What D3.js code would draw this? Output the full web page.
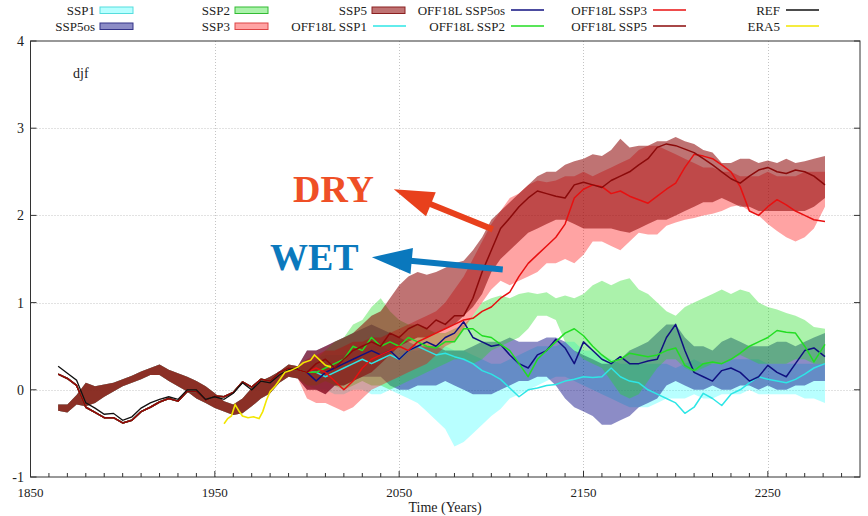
<!DOCTYPE html>
<html><head><meta charset="utf-8">
<script src="https://cdn.jsdelivr.net/npm/d3@7"></script>
<style>body{margin:0;background:#fff}svg{display:block}</style>
</head><body><svg id="c" width="868" height="516"></svg>
<script>
// ---------------- data ----------------
const xTicks = [1850, 1950, 2050, 2150, 2250];
const yTicks = [-1, 0, 1, 2, 3, 4];
const panelLabel = "djf";
const xTitle = "Time (Years)";

const histYears = [1865,1870,1875,1880,1885,1890,1895,1900,1905,1910,1915,1920,1925,1930,1935,1940,1945,1950,1955,1960,1965,1970,1975,1980,1985,1990,1995];
const histLow  = [-0.24,-0.26,-0.17,-0.19,-0.15,-0.08,-0.02,0.04,0.08,0.12,0.17,0.17,0.10,0.04,-0.02,-0.10,-0.15,-0.21,-0.25,-0.29,-0.27,-0.19,-0.10,-0.04,0.08,0.15,0.13];
const histHigh = [-0.17,-0.17,-0.06,0.08,0.04,0.06,0.08,0.12,0.16,0.21,0.25,0.29,0.23,0.19,0.15,0.10,0.04,-0.04,-0.13,-0.17,-0.10,0.02,0.10,0.15,0.21,0.29,0.27];
const refHist  = [0.27,0.19,0.11,-0.15,-0.21,-0.28,-0.27,-0.35,-0.31,-0.21,-0.15,-0.11,-0.08,-0.11,0.0,0.0,-0.11,-0.08,-0.11,-0.04,0.08,0.0,0.10,0.08,0.17,0.23,0.25];
const offHist  = [0.18,0.13,0.05,-0.20,-0.26,-0.32,-0.32,-0.38,-0.35,-0.25,-0.20,-0.14,-0.10,-0.13,-0.02,-0.02,-0.12,-0.07,-0.08,-0.03,0.09,0.03,0.12,0.10,0.20,0.25,0.23];

const eraYears = [1955,1957,1959,1961,1963,1965,1968,1971,1974,1976,1978,1980,1983,1985,1988,1991,1995,1998,2002,2004,2007,2010,2013];
const eraVals  = [-0.39,-0.33,-0.30,-0.17,-0.24,-0.30,-0.32,-0.31,-0.33,-0.25,-0.12,-0.02,0.05,0.11,0.20,0.22,0.26,0.31,0.34,0.40,0.34,0.28,0.26];

const futYears = [2000,2005,2010,2015,2020,2025,2030,2035,2040,2045,2050,2055,2060,2065,2070,2075,2080,2085,2090,2095,2100,2105,2110,2115,2120,2125,2130,2135,2140,2145,2150,2155,2160,2165,2170,2175,2180,2185,2190,2195,2200,2205,2210,2215,2220,2225,2230,2235,2240,2245,2250,2255,2260,2265,2270,2275,2281];

const ssp1Low   = [0.05,0.0,0.0,-0.05,-0.05,0.0,0.0,-0.05,-0.05,0.0,-0.05,-0.1,-0.15,-0.25,-0.35,-0.45,-0.65,-0.6,-0.5,-0.4,-0.3,-0.22,-0.1,-0.05,0.0,0.05,0.1,0.15,0.15,0.1,0.05,0.0,-0.05,-0.1,-0.15,-0.2,-0.2,-0.2,-0.15,-0.1,-0.1,-0.1,-0.05,-0.1,-0.1,-0.05,-0.05,-0.05,0.0,-0.05,-0.05,-0.05,-0.05,-0.05,-0.1,-0.1,-0.15];
const ssp1High  = [0.35,0.35,0.4,0.4,0.4,0.45,0.45,0.5,0.5,0.45,0.45,0.45,0.45,0.5,0.5,0.5,0.45,0.45,0.4,0.35,0.3,0.3,0.35,0.4,0.45,0.5,0.5,0.5,0.55,0.55,0.45,0.45,0.4,0.35,0.3,0.3,0.3,0.3,0.3,0.3,0.25,0.3,0.35,0.3,0.3,0.3,0.35,0.35,0.35,0.35,0.3,0.3,0.3,0.3,0.3,0.3,0.3];
const ssp5osLow = [0.0,0.0,-0.05,0.05,0.05,0.1,0.15,0.15,0.15,0.05,0.0,0.0,0.05,0.05,0.05,0.1,0.05,0.0,-0.05,-0.05,-0.05,0.0,0.05,0.1,0.1,0.15,0.15,0.05,-0.1,-0.2,-0.25,-0.3,-0.4,-0.4,-0.35,-0.3,-0.2,-0.15,-0.1,0.05,0.1,0.05,0.0,0.0,0.05,0.0,0.0,0.05,0.05,0.0,0.05,0.0,0.0,0.05,0.05,0.1,0.1];
const ssp5osHigh= [0.45,0.45,0.5,0.55,0.6,0.65,0.7,0.75,0.7,0.65,0.6,0.55,0.5,0.5,0.5,0.45,0.45,0.45,0.5,0.55,0.55,0.55,0.6,0.55,0.55,0.55,0.6,0.6,0.55,0.45,0.4,0.35,0.3,0.3,0.35,0.45,0.5,0.55,0.65,0.75,0.75,0.6,0.5,0.5,0.45,0.55,0.6,0.55,0.5,0.5,0.5,0.55,0.55,0.5,0.55,0.6,0.65];
const ssp2Low   = [0.05,0.05,0.1,0.05,0.0,0.05,0.1,0.05,0.05,0.0,0.05,0.1,0.15,0.2,0.25,0.3,0.35,0.35,0.3,0.35,0.45,0.5,0.55,0.6,0.7,0.85,0.85,0.8,0.55,0.45,0.35,0.3,0.25,0.1,-0.05,-0.1,-0.05,0.1,0.25,0.35,0.35,0.25,0.2,0.25,0.3,0.3,0.35,0.4,0.35,0.3,0.3,0.3,0.3,0.35,0.35,0.3,0.3];
const ssp2High  = [0.3,0.35,0.45,0.55,0.6,0.75,0.8,0.95,1.05,0.9,0.8,0.75,0.75,0.7,0.65,0.65,0.7,0.75,0.85,1.0,1.05,1.08,1.05,1.1,1.12,1.1,1.12,1.05,1.08,1.05,1.1,1.2,1.25,1.2,1.25,1.28,1.15,1.1,1.0,0.9,0.85,0.95,1.0,1.05,1.1,1.15,1.1,1.15,1.12,1.0,0.95,0.92,0.88,0.85,0.8,0.72,0.7];
const ssp3Low   = [-0.1,-0.15,-0.15,-0.2,-0.25,-0.2,-0.1,0.0,0.05,0.1,0.15,0.2,0.25,0.3,0.4,0.5,0.55,0.7,0.85,1.0,1.15,1.25,1.2,1.25,1.3,1.35,1.45,1.45,1.5,1.45,1.55,1.7,1.7,1.65,1.6,1.7,1.8,1.78,1.78,1.88,1.92,1.95,1.97,2.0,2.02,2.05,2.1,2.12,2.05,2.0,1.9,1.82,1.75,1.7,1.75,1.85,2.1];
const ssp3High  = [0.35,0.4,0.45,0.45,0.5,0.55,0.55,0.6,0.6,0.65,0.7,0.75,0.8,0.85,0.9,1.0,1.15,1.3,1.5,1.7,1.9,2.05,2.2,2.25,2.35,2.4,2.38,2.4,2.45,2.45,2.5,2.45,2.5,2.55,2.6,2.65,2.75,2.8,2.8,2.75,2.7,2.65,2.6,2.55,2.55,2.5,2.5,2.45,2.45,2.45,2.5,2.45,2.45,2.45,2.5,2.5,2.5];
const ssp5Low   = [0.0,0.0,-0.05,0.05,0.05,0.1,0.15,0.2,0.3,0.4,0.5,0.55,0.6,0.6,0.65,0.7,0.75,0.85,0.95,1.1,1.35,1.5,1.6,1.7,1.8,1.85,1.9,1.95,1.95,1.9,1.85,1.85,1.85,1.85,1.82,1.8,1.85,1.9,1.95,1.95,2.0,2.05,2.1,2.15,2.15,2.2,2.15,2.1,2.1,2.05,2.05,2.05,2.05,2.05,2.05,2.1,2.2];
const ssp5High  = [0.45,0.45,0.5,0.55,0.6,0.65,0.75,0.85,0.9,1.05,1.2,1.3,1.35,1.32,1.35,1.4,1.45,1.48,1.6,1.75,1.95,2.05,2.15,2.25,2.35,2.45,2.5,2.5,2.58,2.62,2.65,2.7,2.68,2.75,2.88,2.78,2.8,2.8,2.85,2.85,2.9,2.85,2.82,2.75,2.72,2.6,2.6,2.65,2.65,2.6,2.63,2.6,2.65,2.6,2.62,2.65,2.68];

const off1   = [0.2,0.2,0.15,0.2,0.25,0.3,0.35,0.3,0.35,0.4,0.35,0.45,0.5,0.45,0.4,0.42,0.38,0.35,0.3,0.22,0.18,0.12,0.02,-0.08,0.0,0.02,0.05,0.06,0.1,0.12,0.15,0.14,0.15,0.25,0.15,0.1,0.08,0.0,-0.05,-0.1,-0.15,-0.27,-0.2,-0.04,-0.1,-0.18,-0.05,0.0,0.08,0.15,0.12,0.1,0.08,0.12,0.18,0.25,0.3];
const off5os = [0.2,0.1,0.2,0.25,0.3,0.35,0.4,0.45,0.4,0.45,0.35,0.45,0.5,0.55,0.5,0.6,0.65,0.78,0.6,0.55,0.5,0.52,0.4,0.3,0.25,0.4,0.45,0.58,0.48,0.3,0.55,0.45,0.35,0.3,0.38,0.3,0.3,0.33,0.35,0.6,0.75,0.45,0.2,0.15,0.1,0.22,0.25,0.2,0.1,0.15,0.28,0.2,0.15,0.3,0.45,0.48,0.38];
const off2   = [0.2,0.2,0.25,0.3,0.35,0.5,0.45,0.6,0.5,0.55,0.5,0.6,0.55,0.5,0.48,0.55,0.55,0.7,0.7,0.62,0.6,0.52,0.45,0.3,0.15,0.35,0.45,0.55,0.65,0.7,0.62,0.5,0.4,0.32,0.35,0.42,0.4,0.38,0.4,0.45,0.48,0.28,0.22,0.3,0.32,0.3,0.35,0.42,0.5,0.55,0.6,0.68,0.66,0.65,0.5,0.32,0.52];
const off3   = [0.2,0.25,0.2,0.1,0.0,0.1,0.25,0.35,0.4,0.45,0.5,0.45,0.55,0.6,0.65,0.7,0.75,0.8,0.82,0.9,0.95,1.05,1.12,1.3,1.45,1.55,1.65,1.75,1.9,2.2,2.3,2.35,2.33,2.25,2.28,2.22,2.18,2.14,2.22,2.3,2.37,2.55,2.7,2.68,2.65,2.58,2.5,2.33,2.05,2.0,2.1,2.18,2.12,2.05,2.0,1.95,1.93];
const off5   = [0.2,0.3,0.35,0.25,0.35,0.45,0.5,0.55,0.5,0.65,0.6,0.7,0.75,0.7,0.8,0.75,0.85,0.85,1.05,1.35,1.6,1.85,1.97,2.1,2.2,2.28,2.25,2.22,2.2,2.35,2.38,2.35,2.32,2.4,2.45,2.5,2.58,2.65,2.78,2.82,2.8,2.76,2.72,2.65,2.58,2.5,2.42,2.37,2.45,2.52,2.55,2.5,2.48,2.52,2.5,2.45,2.35];

const bandNames = ["SSP1","SSP5os","SSP2","SSP3","SSP5"];
const lineNames = ["OFF18L SSP1","OFF18L SSP5os","OFF18L SSP2","OFF18L SSP3","OFF18L SSP5","REF","ERA5"];

// annotations in data units
const notes = [
  {text:"DRY", year:1992.4, value:2.15, color:"#ef4f26"},
  {text:"WET", year:1979.9, value:1.37, color:"#0b79bd"}
];
const arrows = [
  {from:[2100.8,1.84], to:[2047.1,2.30], color:"#e8401c"},
  {from:[2106.2,1.38], to:[2035.2,1.52], color:"#0a78bd"}
];

// ---------------- styles ----------------
const bandStyle = {
  "SSP1":   {fill:"#00ffff", op:0.28, stroke:"#55dddd"},
  "SSP5os": {fill:"#000080", op:0.45, stroke:"#333388"},
  "SSP2":   {fill:"#22dd22", op:0.38, stroke:"#33bb33"},
  "SSP3":   {fill:"#ff0000", op:0.36, stroke:"#dd4444"},
  "SSP5":   {fill:"#8b0000", op:0.55, stroke:"#8b2020"}
};
const lineStyle = {
  "OFF18L SSP1":  "#2ee6e6",
  "OFF18L SSP5os":"#101080",
  "OFF18L SSP2":  "#22dd22",
  "OFF18L SSP3":  "#e81010",
  "OFF18L SSP5":  "#8b0a0a",
  "REF": "#111111",
  "ERA5": "#f2e600"
};

// ---------------- build ----------------
const svg = d3.select("#c");
const x = d3.scaleLinear().domain([1850, 2300]).range([30.5, 860]);
const y = d3.scaleLinear().domain([-1, 4]).range([477, 41]);
const serif = "'Liberation Serif','Times New Roman','DejaVu Serif',serif";

svg.append("defs").append("clipPath").attr("id","clip")
  .append("rect").attr("x",x(1850)).attr("y",y(4)).attr("width",x(2300)-x(1850)).attr("height",y(-1)-y(4));

// grid
const grid = svg.append("g").attr("stroke","#c4c4c4").attr("stroke-width",1).attr("stroke-dasharray","1,2");
grid.selectAll("line.gx").data(xTicks.filter(t=>t>1850)).join("line")
  .attr("x1",d=>Math.round(x(d))+0.5).attr("x2",d=>Math.round(x(d))+0.5).attr("y1",y(4)).attr("y2",y(-1));
grid.selectAll("line.gy").data(yTicks.filter(t=>t>-1 && t<4)).join("line")
  .attr("y1",d=>Math.round(y(d))+0.5).attr("y2",d=>Math.round(y(d))+0.5).attr("x1",x(1850)).attr("x2",x(2300));

// bands
const bandData = {
  "SSP1":[ssp1Low,ssp1High], "SSP5os":[ssp5osLow,ssp5osHigh], "SSP2":[ssp2Low,ssp2High],
  "SSP3":[ssp3Low,ssp3High], "SSP5":[ssp5Low,ssp5High]
};
const area = d3.area().x(d=>x(d.t)).y0(d=>y(d.lo)).y1(d=>y(d.hi));
const plot = svg.append("g").attr("clip-path","url(#clip)");
bandNames.forEach(n=>{
  const [lo,hi] = bandData[n];
  const pts = histYears.map((t,i)=>({t,lo:histLow[i],hi:histHigh[i]}))
    .concat(futYears.map((t,i)=>({t,lo:lo[i],hi:hi[i]})));
  plot.append("path").datum(pts).attr("d",area)
    .attr("fill",bandStyle[n].fill).attr("fill-opacity",bandStyle[n].op);
});

// lines
const line = d3.line().x(d=>x(d.t)).y(d=>y(d.v));
const offData = {"OFF18L SSP1":off1,"OFF18L SSP5os":off5os,"OFF18L SSP2":off2,"OFF18L SSP3":off3,"OFF18L SSP5":off5};
Object.keys(offData).forEach(n=>{
  const pts = histYears.map((t,i)=>({t,v:offHist[i]})).concat(futYears.map((t,i)=>({t,v:offData[n][i]})));
  plot.append("path").datum(pts).attr("d",line).attr("fill","none")
    .attr("stroke",lineStyle[n]).attr("stroke-width",1.5).attr("stroke-linejoin","round");
});
plot.append("path").datum(histYears.map((t,i)=>({t,v:refHist[i]}))).attr("d",line)
  .attr("fill","none").attr("stroke",lineStyle["REF"]).attr("stroke-width",1.3);
plot.append("path").datum(eraYears.map((t,i)=>({t,v:eraVals[i]}))).attr("d",line)
  .attr("fill","none").attr("stroke",lineStyle["ERA5"]).attr("stroke-width",1.6);

// axes frame
const ax = svg.append("g").attr("stroke","#333").attr("stroke-width",1);
ax.append("rect").attr("x",x(1850)).attr("y",y(4)).attr("width",x(2300)-x(1850)).attr("height",y(-1)-y(4))
  .attr("fill","none");
yTicks.forEach(v=>{
  ax.append("line").attr("x1",x(1850)).attr("x2",x(1850)+6).attr("y1",y(v)).attr("y2",y(v));
  ax.append("line").attr("x1",x(2300)).attr("x2",x(2300)-6).attr("y1",y(v)).attr("y2",y(v));
});
const minorYears = d3.range(1860, 2300, 10);
minorYears.forEach(t=>{
  const big = xTicks.includes(t);
  ax.append("line").attr("x1",x(t)).attr("x2",x(t)).attr("y1",y(-1)).attr("y2",y(-1)-(big?6:4));
});

// tick labels
svg.append("g").selectAll("text").data(yTicks).join("text")
  .attr("x",24).attr("y",d=>y(d)+5).attr("text-anchor","end")
  .attr("font-family",serif).attr("font-size",14).attr("fill","#222").text(d=>d);
svg.append("g").selectAll("text").data(xTicks).join("text")
  .attr("x",d=>x(d)).attr("y",497).attr("text-anchor","middle")
  .attr("font-family",serif).attr("font-size",13).attr("fill","#222").text(d=>d);
svg.append("text").attr("x",445).attr("y",512).attr("text-anchor","middle")
  .attr("font-family",serif).attr("font-size",14).attr("fill","#222").text(xTitle);
svg.append("text").attr("x",73).attr("y",78)
  .attr("font-family",serif).attr("font-size",14).attr("fill","#222").text(panelLabel);

// annotations
arrows.forEach(a=>{
  const x0=x(a.from[0]), y0=y(a.from[1]), x1=x(a.to[0]), y1=y(a.to[1]);
  const ang=Math.atan2(y1-y0,x1-x0), L=40, hw=13;
  const bx=x1-L*Math.cos(ang), by=y1-L*Math.sin(ang);
  svg.append("line").attr("x1",x0).attr("y1",y0).attr("x2",bx+4*Math.cos(ang)).attr("y2",by+4*Math.sin(ang))
    .attr("stroke",a.color).attr("stroke-width",6);
  const px=-Math.sin(ang), py=Math.cos(ang);
  svg.append("path").attr("d",`M${x1},${y1}L${bx+hw*px},${by+hw*py}L${bx-hw*px},${by-hw*py}Z`).attr("fill",a.color);
});
notes.forEach(n=>{
  svg.append("text").attr("x",x(n.year)).attr("y",y(n.value))
    .attr("font-family",serif).attr("font-weight","bold").attr("font-size",38)
    .attr("fill",n.color).text(n.text);
});

// legend
const legendCols = [95, 230, 367, 505, 647, 780];
const legendRows = [10, 26];
const legendItems = [
  {name:"SSP1",type:"band"},{name:"SSP5os",type:"band"},
  {name:"SSP2",type:"band"},{name:"SSP3",type:"band"},
  {name:"SSP5",type:"band"},{name:"OFF18L SSP1",type:"line"},
  {name:"OFF18L SSP5os",type:"line"},{name:"OFF18L SSP2",type:"line"},
  {name:"OFF18L SSP3",type:"line"},{name:"OFF18L SSP5",type:"line"},
  {name:"REF",type:"line"},{name:"ERA5",type:"line"}
];
const lg = svg.append("g");
legendItems.forEach((it,i)=>{
  const cx = legendCols[Math.floor(i/2)], cy = legendRows[i%2];
  lg.append("text").attr("x",cx).attr("y",cy+4.5).attr("text-anchor","end")
    .attr("font-family",serif).attr("font-size",13).attr("fill","#222").text(it.name);
  if(it.type==="band"){
    const s=bandStyle[it.name];
    lg.append("rect").attr("x",cx+5).attr("y",cy-3).attr("width",33).attr("height",6.5)
      .attr("fill",s.fill).attr("fill-opacity",s.op).attr("stroke",s.stroke).attr("stroke-width",1);
  } else {
    lg.append("line").attr("x1",cx+6).attr("x2",cx+39).attr("y1",cy).attr("y2",cy)
      .attr("stroke",lineStyle[it.name]).attr("stroke-width",1.5);
  }
});
</script></body></html>
